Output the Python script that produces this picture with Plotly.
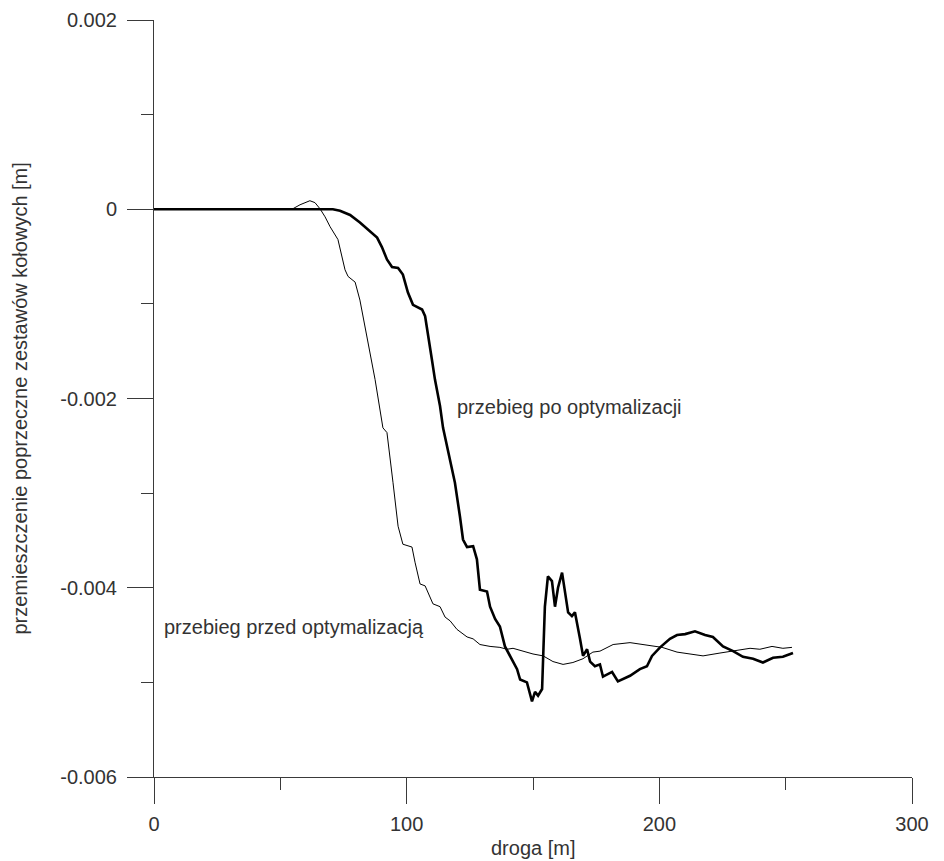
import plotly.graph_objects as go

# ---- data ----
x_before = [0, 54.6, 57.8, 61.7, 63.7, 65.7, 67.7, 69.7, 72.8, 75.6, 76.8, 79.6, 81.5, 84.3,
            87.5, 90.6, 92.2, 94.6, 96.6, 98.5, 102.1, 103.3, 105.3, 107.3, 109.2, 110.4,
            113.2, 115.2, 117.2, 119.9, 123.9, 126.3, 129.0, 133.0, 136.9, 139.7, 142.1,
            146.0, 150.0, 154.0, 157.9, 161.9, 165.8, 169.8, 173.7, 176.5, 181.7, 188.4,
            195.1, 201.1, 207.0, 213.3, 217.3, 224.0, 229.2, 235.9, 239.8, 244.6, 248.9, 252.5]
y_before = [0, 0, 0.0000475, 0.00009, 0.00007, 0.000005, -0.00008, -0.000185, -0.00032,
            -0.00064, -0.00071, -0.00077, -0.00096, -0.00135, -0.0018, -0.00231, -0.00236,
            -0.00289, -0.00335, -0.00354, -0.00357, -0.00373, -0.00396, -0.00398, -0.0041,
            -0.00417, -0.0042, -0.00431, -0.00435, -0.00444, -0.00452, -0.00454, -0.0046,
            -0.00462, -0.00463, -0.00465, -0.00464, -0.00467, -0.0047, -0.00472, -0.00478,
            -0.00481, -0.00479, -0.00475, -0.00468, -0.00467, -0.0046, -0.00458, -0.00461,
            -0.00463, -0.00468, -0.0047, -0.00472, -0.00469, -0.00467, -0.00464, -0.00465,
            -0.00462, -0.00464, -0.00463]

x_after = [0, 70.8, 73.6, 77.6, 81.5, 85.5, 88.3, 90.2, 92.2, 94.2, 96.6, 98.5, 100.5, 102.5,
           106.1, 107.3, 108.4, 110.0, 111.2, 113.2, 114.4, 117.2, 119.1, 121.1, 122.3, 123.9,
           126.3, 127.8, 129.0, 131.8, 133.0, 135.0, 136.9, 138.9, 140.9, 143.7, 144.9, 147.6,
           149.6, 150.8, 152.0, 153.6, 154.0, 154.7, 155.9, 157.5, 158.7, 159.9, 161.5, 162.7,
           163.9, 165.4, 166.6, 168.6, 169.8, 171.4, 172.6, 174.5, 176.5, 177.7, 181.3, 183.6,
           188.4, 192.3, 195.1, 197.1, 200.3, 204.2, 207.0, 210.2, 214.1, 218.1, 221.2, 225.2,
           229.2, 233.1, 237.1, 241.0, 245.0, 248.9, 252.9]
y_after = [0, 0, -0.000016, -0.00006, -0.00014, -0.00024, -0.0003, -0.0004, -0.00053, -0.00061,
           -0.00062, -0.00069, -0.00088, -0.00101, -0.00106, -0.00113, -0.0013, -0.00159,
           -0.0018, -0.00208, -0.00231, -0.00264, -0.00289, -0.00325, -0.00349, -0.00357,
           -0.00356, -0.0037, -0.00402, -0.00404, -0.0042, -0.00433, -0.00441, -0.00462,
           -0.00472, -0.00486, -0.00497, -0.005, -0.0052, -0.0051, -0.00514, -0.00507,
           -0.00475, -0.0042, -0.00388, -0.00393, -0.0042, -0.004, -0.00384, -0.00404,
           -0.00426, -0.0043, -0.00426, -0.00454, -0.00472, -0.00465, -0.00478, -0.00483,
           -0.00481, -0.00494, -0.00489, -0.00499, -0.00493, -0.00486, -0.00483, -0.00472,
           -0.00463, -0.00454, -0.0045, -0.00449, -0.00446, -0.0045, -0.00452, -0.00462,
           -0.00467, -0.00473, -0.00475, -0.00479, -0.00474, -0.00473, -0.00469]

x_tickvals = [0, 100, 200, 300]
x_ticktext = ["0", "100", "200", "300"]
x_minor = [50, 150, 250]
y_tickvals = [-0.006, -0.004, -0.002, 0, 0.002]
y_ticktext = ["-0.006", "-0.004", "-0.002", "0", "0.002"]
y_minor = [-0.005, -0.003, -0.001, 0.001]

label_after = "przebieg po optymalizacji"
label_before = "przebieg przed optymalizacją"
x_title = "droga [m]"
y_title = "przemieszczenie poprzeczne zestawów kołowych [m]"

FONT = "Liberation Sans, Arial, sans-serif"
AX = "#3a3a3a"
TXT = "#333333"

fig = go.Figure()
fig.add_trace(go.Scatter(x=x_before, y=y_before, mode="lines",
                         line=dict(color="black", width=1), showlegend=False))
fig.add_trace(go.Scatter(x=x_after, y=y_after, mode="lines",
                         line=dict(color="black", width=2.6), showlegend=False))

fig.update_xaxes(range=[0, 300], showgrid=False, zeroline=False, showline=True,
                 automargin=False,
                 linecolor=AX, linewidth=1, ticks="outside", ticklen=26, tickcolor=AX,
                 tickwidth=1, tickmode="array", tickvals=x_tickvals, ticktext=x_ticktext,
                 minor=dict(tickvals=x_minor, ticks="outside", ticklen=12, tickcolor=AX, tickwidth=1),
                 tickfont=dict(family=FONT, size=20, color=TXT), ticklabelstandoff=3)
fig.update_yaxes(range=[-0.006, 0.002], showgrid=False, zeroline=False, showline=True,
                 automargin=False,
                 linecolor=AX, linewidth=1, ticks="outside", ticklen=26, tickcolor=AX,
                 tickwidth=1, tickmode="array", tickvals=y_tickvals, ticktext=y_ticktext,
                 minor=dict(tickvals=y_minor, ticks="outside", ticklen=12, tickcolor=AX, tickwidth=1),
                 tickfont=dict(family=FONT, size=20, color=TXT), ticklabelstandoff=6)

fig.add_annotation(x=119.1, y=-0.002095, xref="x", yref="y", text=label_after,
                   showarrow=False, xanchor="left", yanchor="middle",
                   font=dict(family=FONT, size=20, color=TXT))
fig.add_annotation(x=3.2, y=-0.004417, xref="x", yref="y", text=label_before,
                   showarrow=False, xanchor="left", yanchor="middle",
                   font=dict(family=FONT, size=20, color=TXT))
fig.add_annotation(x=0.5, y=-0.094, xref="paper", yref="paper", text=x_title,
                   showarrow=False, xanchor="center", yanchor="middle",
                   font=dict(family=FONT, size=20, color=TXT))
fig.add_annotation(x=-0.178, y=0.5, xref="paper", yref="paper", text=y_title,
                   showarrow=False, xanchor="center", yanchor="middle", textangle=-90,
                   font=dict(family=FONT, size=20, color=TXT))

# page body has an 8px margin, so the figure is 16px smaller and margins shifted
fig.update_layout(width=936, height=853, margin=dict(l=146, r=32, t=12, b=84),
                  paper_bgcolor="white", plot_bgcolor="white",
                  font=dict(family=FONT, size=20, color=TXT))

fig.write_html("out.html")
